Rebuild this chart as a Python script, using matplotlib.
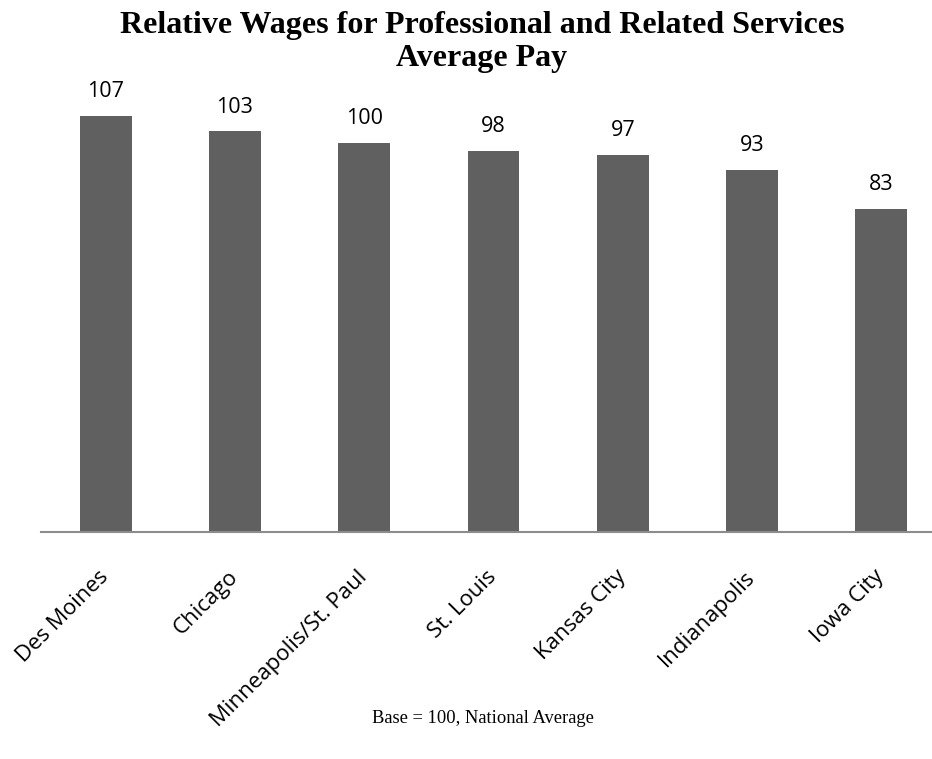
import matplotlib.pyplot as plt

# 数据
cities = ['Des Moines', 'Chicago', 'Minneapolis/St. Paul', 'St. Louis',
          'Kansas City', 'Indianapolis', 'Iowa City']
pay = [107, 103, 100, 98, 97, 93, 83]

fig = plt.figure(figsize=(9.32, 7.59), dpi=100)
ax = fig.add_axes([0.044, 0.299, 0.971, 0.615])

ax.bar(range(len(cities)), pay, width=0.4, color='#606060')
ax.set_xlim(-0.5, len(cities) - 0.5)
ax.set_ylim(0, 120)

# 数值标签
for i, v in enumerate(pay):
    ax.annotate(str(v), (i, v), xytext=(0, 10), textcoords='offset points',
                ha='center', va='bottom', fontsize=15.5, family='Open Sans')

ax.set_xticks(range(len(cities)))
ax.set_xticklabels(cities, rotation=45, ha='right', va='center',
                   rotation_mode='anchor', fontsize=16, family='Open Sans')
ax.tick_params(axis='x', length=0, pad=30)
ax.set_yticks([])
for s in ['top', 'right', 'left']:
    ax.spines[s].set_visible(False)
ax.spines['bottom'].set_color('#8c8c8c')
ax.spines['bottom'].set_linewidth(1.5)

fig.text(0.517, 0.986, 'Relative Wages for Professional and Related Services\nAverage Pay',
         ha='center', va='top', fontsize=23, fontweight='bold',
         family='Liberation Serif', linespacing=1.2)
fig.text(0.518, 0.053, 'Base = 100, National Average', ha='center', va='center',
         fontsize=13.3, family='Liberation Serif')

fig.savefig('out.png')
